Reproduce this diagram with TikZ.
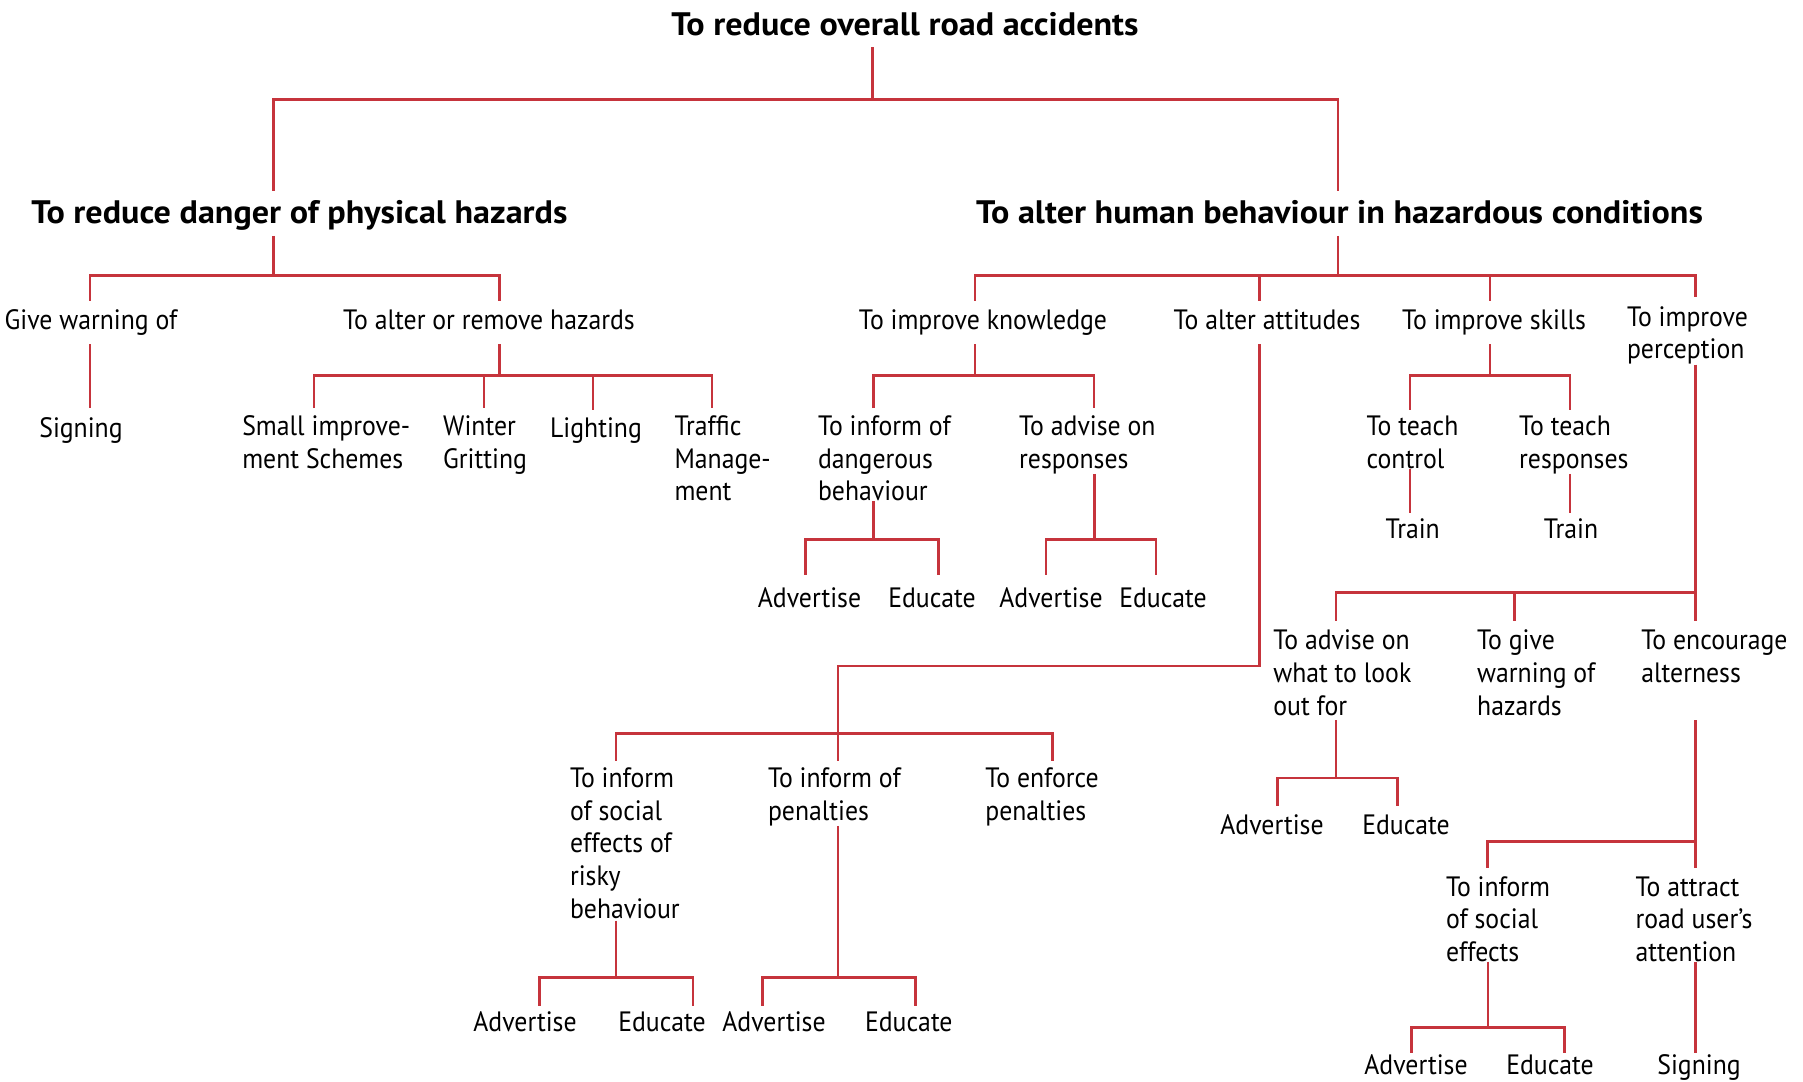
\documentclass[tikz,border=0pt]{standalone}
\usepackage{fontspec}
\newfontfamily\treefam[FakeStretch=0.92]{PT Sans}
\newfontfamily\headfam[FakeStretch=1.05]{PT Sans}
\newcommand\lblfont{\treefam\fontsize{28}{32.7}\selectfont}
\newcommand\hdfont{\headfam\bfseries\fontsize{32.5}{38}\selectfont}
\definecolor{linkred}{RGB}{198,52,60}

\begin{document}
\begin{tikzpicture}[x=1pt,y=-1pt,
  link/.style={draw=linkred, line width=2.6pt},
  txt/.style={font=\lblfont, inner sep=0pt, outer sep=0pt, text=black, anchor=base},
  mtxt/.style={font=\lblfont, inner sep=0pt, outer sep=0pt, text=black, align=left,
               anchor=north west, yshift=22.9pt},
  head/.style={font=\hdfont, inner sep=0pt, outer sep=0pt, text=black, anchor=base}]

\fill[white] (0,0) rectangle (1803,1081);
\useasboundingbox (0,0) rectangle (1803,1081);

% ---------- headings ----------
\node[head] (root)  at (905,36)      {\strut To reduce overall road accidents};
\node[head] (phys)  at (299.5,223.5) {\strut To reduce danger of physical hazards};
\node[head] (human) at (1339.5,223.5){\strut To alter human behaviour in hazardous conditions};

% ---------- second level ----------
\node[txt] (give)  at (91,329.5)   {\strut Give warning of};
\node[txt] (alter) at (489,329.5)  {\strut To alter or remove hazards};
\node[txt] (know)  at (983,329.5)  {\strut To improve knowledge};
\node[txt] (att)   at (1267,329.5) {\strut To alter attitudes};
\node[txt] (skill) at (1494,329.5) {\strut To improve skills};
\node[mtxt] (perc) at (1627,326.3) {\strut To improve\\perception};

% ---------- third level ----------
\node[txt]  (sign1)   at (81,437)       {\strut Signing};
\node[mtxt] (small)   at (242.3,435.5)  {\strut Small improve-\\ment Schemes};
\node[mtxt] (winter)  at (443.2,435.5)  {\strut Winter\\Gritting};
\node[txt]  (light)   at (596,437)      {\strut Lighting};
\node[mtxt] (traffic) at (674.5,435.5)  {\strut Traffic\\Manage-\\ment};
\node[mtxt] (infd)    at (818,435.5)    {\strut To inform of\\dangerous\\behaviour};
\node[mtxt] (advr)    at (1019.2,435.5) {\strut To advise on\\responses};
\node[mtxt] (tctrl)   at (1366.6,435.5) {\strut To teach\\control};
\node[mtxt] (tresp)   at (1519.2,435.5) {\strut To teach\\responses};

\node[txt] (train1) at (1412.7,538) {\strut Train};
\node[txt] (train2) at (1571,538)   {\strut Train};

\node[txt] (adv1) at (809.5,607.7) {\strut Advertise};
\node[txt] (edu1) at (932,607.7)   {\strut Educate};
\node[txt] (adv2) at (1051,607.7)  {\strut Advertise};
\node[txt] (edu2) at (1163,607.7)  {\strut Educate};

% ---------- perception branch ----------
\node[mtxt] (look) at (1273.3,650) {\strut To advise on\\what to look\\out for};
\node[mtxt] (warn) at (1477.2,650) {\strut To give\\warning of\\hazards};
\node[mtxt] (enc)  at (1641.4,650) {\strut To encourage\\alterness};

\node[txt] (adv3) at (1272,834) {\strut Advertise};
\node[txt] (edu3) at (1406,834) {\strut Educate};

\node[mtxt] (socf) at (1446,896)   {\strut To inform\\of social\\effects};
\node[mtxt] (attr) at (1635.6,896) {\strut To attract\\road user’s\\attention};

% bottom row sits right on the lower edge: no strut below the baseline
\node[txt] (adv6)  at (1416,1074.5) {Advertise};
\node[txt] (edu6)  at (1550,1074.5) {Educate};
\node[txt] (sign2) at (1699,1074.5) {Signing};

% ---------- attitudes branch ----------
\node[mtxt] (soc) at (570,787.5)   {\strut To inform\\of social\\effects of\\risky\\behaviour};
\node[mtxt] (pen) at (768,787.5)   {\strut To inform of\\penalties};
\node[mtxt] (enf) at (985.3,787.5) {\strut To enforce\\penalties};

\node[txt] (adv4) at (525,1031)   {\strut Advertise};
\node[txt] (edu4) at (662,1031)   {\strut Educate};
\node[txt] (adv5) at (774,1031)   {\strut Advertise};
\node[txt] (edu5) at (908.8,1031) {\strut Educate};

% ---------- junction and drop points ----------
\coordinate (j0)      at (872.6,99.2);
\coordinate (d-phys)  at (273.3,99.2);
\coordinate (d-human) at (1337.8,99.2);

\coordinate (jp)      at (273.3,275.5);
\coordinate (d-give)  at (90.1,275.5);
\coordinate (d-alter) at (499.4,275.5);

\coordinate (ja)        at (499.4,375.3);
\coordinate (d-small)   at (314,375.3);
\coordinate (d-winter)  at (484,375.3);
\coordinate (d-light)   at (593,375.3);
\coordinate (d-traffic) at (711.8,375.3);

\coordinate (jh)      at (1337.8,275.5);
\coordinate (d-know)  at (974.9,275.5);
\coordinate (d-att)   at (1259.4,275.5);
\coordinate (d-skill) at (1489.9,275.5);
\coordinate (d-perc)  at (1695.5,275.5);

\coordinate (jk)     at (974.9,375.3);
\coordinate (d-infd) at (873.7,375.3);
\coordinate (d-advr) at (1094.1,375.3);

\coordinate (ji)     at (873.3,539.3);
\coordinate (d-adv1) at (805.7,539.3);
\coordinate (d-edu1) at (938.3,539.3);

\coordinate (jr)     at (1094.3,539.3);
\coordinate (d-adv2) at (1046,539.3);
\coordinate (d-edu2) at (1156,539.3);

\coordinate (js)      at (1489.9,375.3);
\coordinate (d-tctrl) at (1409.8,375.3);
\coordinate (d-tresp) at (1569.9,375.3);

\coordinate (jc)     at (1695.5,592.5);
\coordinate (d-look) at (1336,592.5);
\coordinate (d-warn) at (1514.6,592.5);

\coordinate (e1)    at (1259.4,666);
\coordinate (jt)    at (838.1,733.2);
\coordinate (d-soc) at (616,733.2);
\coordinate (d-enf) at (1052.6,733.2);

\coordinate (jl)     at (1336,778);
\coordinate (d-adv3) at (1277.3,778);
\coordinate (d-edu3) at (1397.7,778);

\coordinate (je)     at (1695.5,841.2);
\coordinate (d-socf) at (1487.6,841.2);

\coordinate (jso)    at (616,977.5);
\coordinate (d-adv4) at (539.6,977.5);
\coordinate (d-edu4) at (692.9,977.5);

\coordinate (jpe)    at (838.1,977.5);
\coordinate (d-adv5) at (762.3,977.5);
\coordinate (d-edu5) at (915.6,977.5);

\coordinate (jsf)    at (1488,1027.5);
\coordinate (d-adv6) at (1411.7,1027.5);
\coordinate (d-edu6) at (1564.3,1027.5);

% ---------- connectors ----------
% overall aim
\draw[link] (root.south -| j0) -- (j0);
\draw[link, shorten <=6pt, shorten >=6pt]
  (phys.north -| d-phys) -- (d-phys) -- (d-human) -- (human.north -| d-human);

% physical hazards
\draw[link, shorten <=1pt] (phys.south -| jp) -- (jp);
\draw[link, shorten <=6pt, shorten >=6pt]
  (give.north -| d-give) -- (d-give) -- (d-alter) -- (alter.north -| d-alter);
\draw[link, shorten <=5pt, shorten >=6pt] (give.south -| d-give) -- (sign1.north -| d-give);

\draw[link, shorten <=5pt] (alter.south -| ja) -- (ja);
\draw[link, shorten <=4.5pt, shorten >=4.5pt]
  (small.north -| d-small) -- (d-small) -- (d-traffic) -- (traffic.north -| d-traffic);
\draw[link, shorten >=4.5pt] (d-winter) -- (winter.north -| d-winter);
\draw[link, shorten >=4.5pt] (d-light) -- (light.north -| d-light);

% human behaviour
\draw[link, shorten <=1pt] (human.south -| jh) -- (jh);
\draw[link, shorten <=6pt, shorten >=6pt]
  (know.north -| d-know) -- (d-know) -- (d-perc) -- (perc.north -| d-perc);
\draw[link, shorten >=6pt] (d-att) -- (att.north -| d-att);
\draw[link, shorten >=6pt] (d-skill) -- (skill.north -| d-skill);

% knowledge
\draw[link, shorten <=5pt] (know.south -| jk) -- (jk);
\draw[link, shorten <=4.5pt, shorten >=4.5pt]
  (infd.north -| d-infd) -- (d-infd) -- (d-advr) -- (advr.north -| d-advr);

\draw[link] (infd.south -| ji) -- (ji);
\draw[link, shorten <=10pt, shorten >=10pt]
  (adv1.north -| d-adv1) -- (d-adv1) -- (d-edu1) -- (edu1.north -| d-edu1);

\draw[link] (advr.south -| jr) -- (jr);
\draw[link, shorten <=10pt, shorten >=10pt]
  (adv2.north -| d-adv2) -- (d-adv2) -- (d-edu2) -- (edu2.north -| d-edu2);

% skills
\draw[link, shorten <=5pt] (skill.south -| js) -- (js);
\draw[link, shorten <=3pt, shorten >=3pt]
  (tctrl.north -| d-tctrl) -- (d-tctrl) -- (d-tresp) -- (tresp.north -| d-tresp);
\draw[link, shorten >=2pt] (tctrl.south -| d-tctrl) -- (train1.north -| d-tctrl);
\draw[link, shorten >=2pt] (tresp.south -| d-tresp) -- (train2.north -| d-tresp);

% perception
\draw[link, shorten >=6pt] (perc.south -| jc) -- (enc.north -| jc);
\draw[link, shorten >=6pt] (jc) -- (d-look) -- (look.north -| d-look);
\draw[link, shorten >=6pt] (d-warn) -- (warn.north -| d-warn);

\draw[link, shorten <=4.5pt] (look.south -| jl) -- (jl);
\draw[link, shorten <=5.5pt, shorten >=5.5pt]
  (adv3.north -| d-adv3) -- (d-adv3) -- (d-edu3) -- (edu3.north -| d-edu3);

\draw[link, shorten <=37pt, shorten >=5pt] (enc.south -| je) -- (attr.north -| je);
\draw[link, shorten >=5pt] (je) -- (d-socf) -- (socf.north -| d-socf);

\draw[link] (socf.south -| jsf) -- (jsf);
\draw[link, shorten <=2pt, shorten >=2pt]
  (adv6.north -| d-adv6) -- (d-adv6) -- (d-edu6) -- (edu6.north -| d-edu6);
\draw[link, shorten >=2pt] (attr.south -| je) -- (sign2.north -| je);

% attitudes
\draw[link, shorten <=5pt] (att.south -| d-att) -- (e1) -| (jt);
\draw[link, shorten <=4pt, shorten >=4pt]
  (soc.north -| d-soc) -- (d-soc) -- (d-enf) -- (enf.north -| d-enf);
\draw[link, shorten >=4pt] (jt) -- (pen.north -| jt);

\draw[link, shorten <=2pt] (soc.south -| jso) -- (jso);
\draw[link, shorten <=2.3pt, shorten >=2.3pt]
  (adv4.north -| d-adv4) -- (d-adv4) -- (d-edu4) -- (edu4.north -| d-edu4);

\draw[link] (pen.south -| jpe) -- (jpe);
\draw[link, shorten <=2.3pt, shorten >=2.3pt]
  (adv5.north -| d-adv5) -- (d-adv5) -- (d-edu5) -- (edu5.north -| d-edu5);

\end{tikzpicture}
\end{document}
